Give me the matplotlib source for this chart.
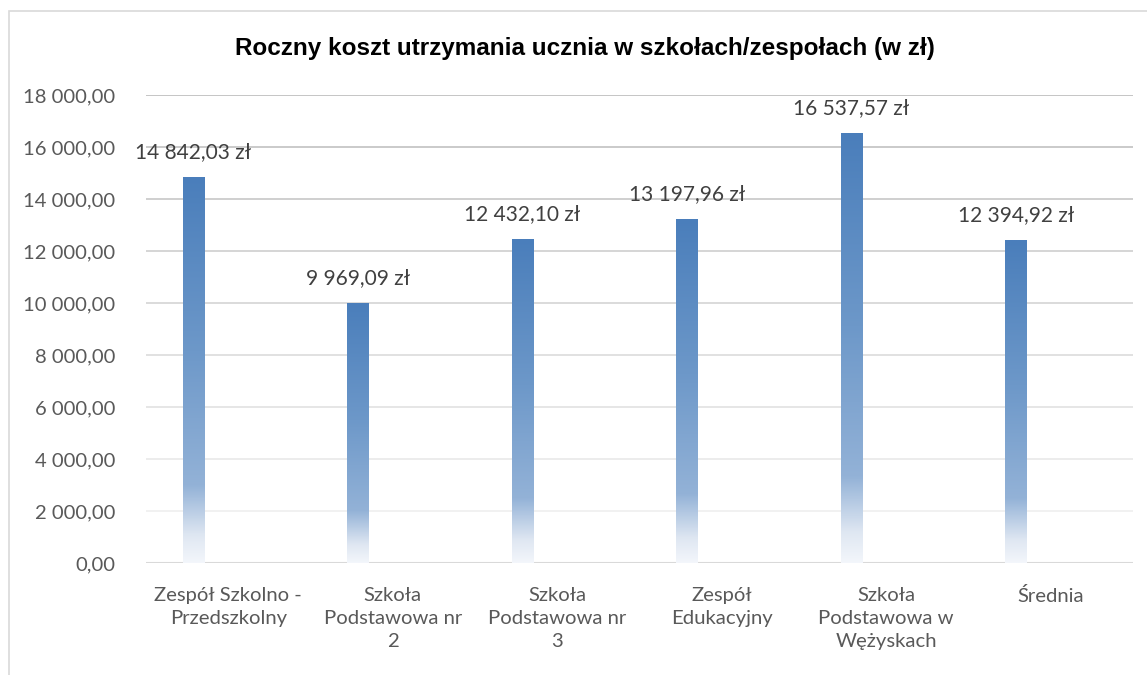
import numpy as np
import matplotlib.pyplot as plt
from matplotlib.colors import LinearSegmentedColormap, to_rgb, to_hex
from matplotlib.patches import Rectangle
from matplotlib import font_manager

# Data
categories = ["Zespół Szkolno -\nPrzedszkolny", "Szkoła\nPodstawowa nr\n2", "Szkoła\nPodstawowa nr\n3",
              "Zespół\nEdukacyjny", "Szkoła\nPodstawowa w\nWężyskach", "Średnia"]
costs = [14842.03, 9969.09, 12432.10, 13197.96, 16537.57, 12394.92]
yticks = np.arange(0, 18001, 2000)

def pl_num(v):
    s = f"{v:,.2f}"
    return s.replace(",", " ").replace(".", ",")

names = {f.name for f in font_manager.fontManager.ttflist}
title_font = "Liberation Sans Narrow" if "Liberation Sans Narrow" in names else "Liberation Sans"
body_font = "Lato"

fig = plt.figure(figsize=(11.47, 6.75), dpi=100)
ax = fig.add_axes([146/1147, 1-563/675, (1133-146)/1147, (563-95)/675])

# chart border (Excel chart area)
fig.patches.append(Rectangle((9/1147, -0.1), 1.2, 1-11/675+0.1, transform=fig.transFigure,
                             fill=False, edgecolor="#d9d9d9", lw=1.2))

x = np.arange(len(categories))
bars = ax.bar(x - 0.213, costs, width=0.13, color="none", zorder=3)

# gradient fill, dark blue top -> white bottom
cmap = LinearSegmentedColormap.from_list("grad", [(0.0, "#f3f6fb"), (0.07, "#dfe7f2"),
                                                  (0.2, "#93b2d7"), (0.55, "#6d98c9"),
                                                  (1.0, "#4a7ebb")])
grad = np.linspace(0, 1, 256).reshape(-1, 1)
for b in bars:
    x0, y0 = b.get_x(), b.get_y()
    ax.imshow(grad, cmap=cmap, origin="lower", aspect="auto", zorder=3,
              extent=[x0, x0 + b.get_width(), y0, y0 + b.get_height()])
    ax.annotate(pl_num(b.get_height()) + " zł", (x0 + b.get_width()/2, b.get_height()),
                xytext=(0, 11), textcoords="offset points", ha="center", va="bottom",
                fontsize=15, color="#404040", family=body_font, zorder=4)

# gridlines get lighter toward the bottom
c_top, c_bot = np.array(to_rgb("#c0c0c0")), np.array(to_rgb("#f0f0f0"))
for t in yticks[1:]:
    f = (t - yticks[1]) / (yticks[-1] - yticks[1])
    ax.axhline(t, color=to_hex(c_bot + (c_top - c_bot) * f), lw=1.3, zorder=1)
ax.axhline(0, color="#d9d9d9", lw=1.5, zorder=2)

ax.set_xlim(-0.5, len(categories) - 0.5)
ax.set_ylim(0, 18000)
ax.set_yticks(yticks)
ax.set_yticklabels([pl_num(t) for t in yticks], family=body_font, fontsize=14.6, color="#595959")
ax.set_xticks(x)
ax.set_xticklabels(categories, family=body_font, fontsize=14.6, color="#595959", linespacing=1.45)
ax.tick_params(length=0)
ax.tick_params(axis="x", pad=17)
ax.tick_params(axis="y", pad=22)
for s in ax.spines.values():
    s.set_visible(False)

fig.text(585/1147, 1-48/675, "Roczny koszt utrzymania ucznia w szkołach/zespołach (w zł)",
         ha="center", va="center", fontsize=17.5, fontweight="bold", family=title_font, color="black")

fig.savefig("out.png", dpi=100)
